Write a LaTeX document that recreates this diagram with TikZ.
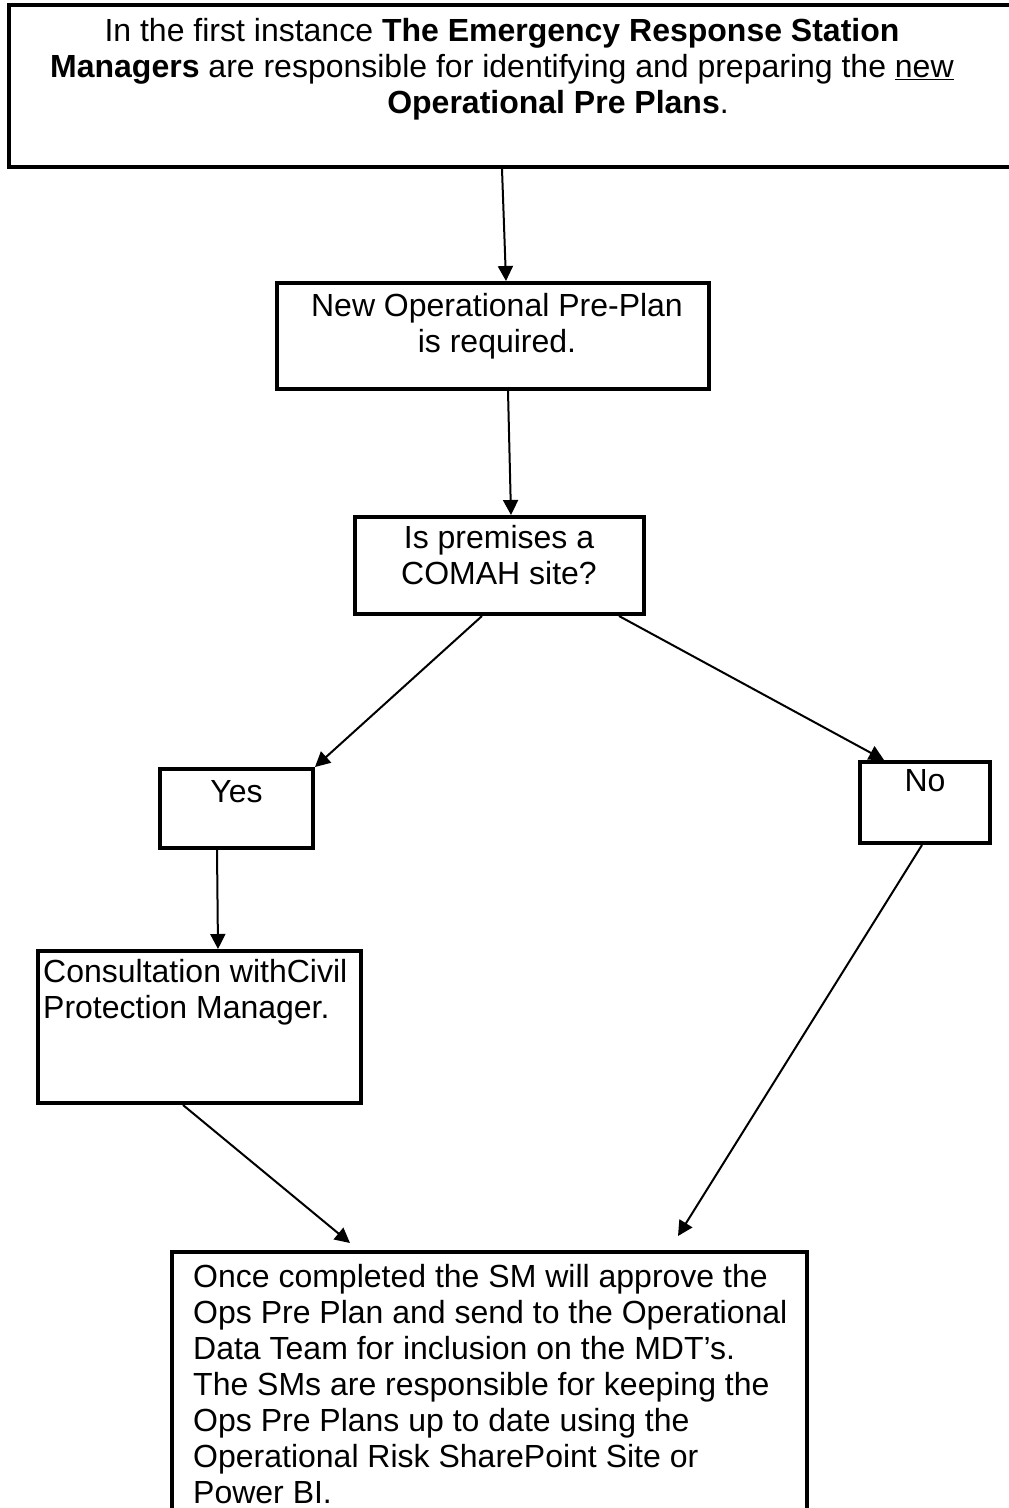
\documentclass[tikz,border=0pt]{standalone}
\usepackage{fontspec}
\setmainfont{Liberation Sans}
\usetikzlibrary{arrows.meta}
\begin{document}
\begin{tikzpicture}[x=1pt,y=-1pt,
  stage/.style={draw,line width=4pt,inner sep=0pt},
  words/.style={inner sep=0pt,font=\fontsize{32}{36}\selectfont},
  flow/.style={-{Triangle[length=15pt,width=15pt]},line width=2pt}]
\useasboundingbox (0,0) rectangle (1009,1508);
%\draw[help lines,step=100] (0,0) grid (1009,1508);
\node[stage,minimum width=1021pt,minimum height=162pt] (first) at (519.5,86) {};
\node[stage,minimum width=432pt,minimum height=106pt] (plan) at (493,336) {};
\node[stage,minimum width=289pt,minimum height=97pt] (comah) at (499.5,565.5) {};
\node[stage,minimum width=153pt,minimum height=79pt] (yes) at (236.5,808.5) {};
\node[stage,minimum width=130pt,minimum height=81pt] (no) at (925,802.5) {};
\node[stage,minimum width=323pt,minimum height=152pt] (consult) at (199.5,1027) {};
\node[stage,minimum width=635pt,minimum height=278pt] (final) at (489.5,1391) {};

\node[words,align=center,anchor=north] (firsttxt) at (502,18) {In the first instance \textbf{The Emergency Response Station}\\
  \textbf{Managers} are responsible for identifying and preparing the \underline{new}\\
  \hspace*{112pt}\textbf{Operational Pre Plans}.};
\node[words,align=center,anchor=north] (plantxt) at (497,293) {New Operational Pre-Plan\\is required.};
\node[words,align=center,anchor=north] (comahtxt) at (499,525) {Is premises a\\COMAH site?};
\node[words,anchor=north] (yestxt) at (236.5,780) {Yes};
\node[words,anchor=north] (notxt) at (925,769) {No};
\node[words,align=left,anchor=north west] (consulttxt) at (43,959) {Consultation withCivil\\Protection Manager.};
\node[words,align=left,anchor=north west] (finaltxt) at (193,1264) {Once completed the SM will approve the\\
  Ops Pre Plan and send to the Operational\\
  Data Team for inclusion on the MDT’s.\\
  The SMs are responsible for keeping the\\
  Ops Pre Plans up to date using the\\
  Operational Risk SharePoint Site or\\
  Power BI.};

\draw[flow] ([xshift=-17.5]first.south)--([xshift=13]plan.north);
\draw[flow] ([xshift=15]plan.south)--([xshift=11.5]comah.north);
\draw[flow] ([xshift=-17.5]comah.south)--(yes.north east);
\draw[flow] ([xshift=119.5]comah.south)--([xshift=26]no.north west);
\draw[flow] ([xshift=-19.5]yes.south)--([xshift=18.5]consult.north);
\draw[flow] ([xshift=-16.5]consult.south)--([xshift=-139.5,yshift=7]final.north);
\draw[flow] ([xshift=-3]no.south)--([xshift=188.5,yshift=14]final.north);
\end{tikzpicture}
\end{document}
